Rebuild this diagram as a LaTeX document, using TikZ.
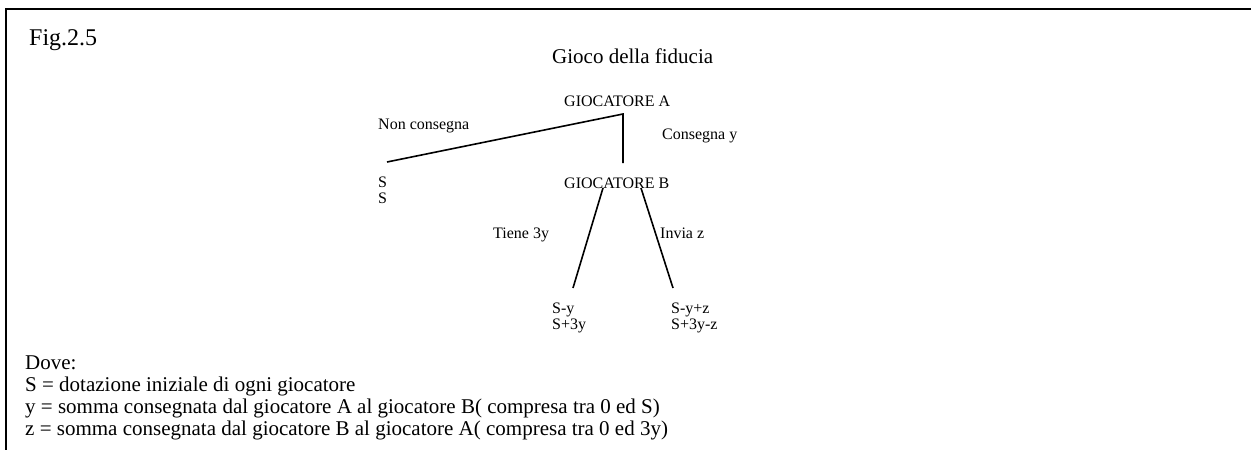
\documentclass[tikz,border=0pt]{standalone}
\usepackage{fontspec}
\setmainfont{Liberation Serif}
\usetikzlibrary{positioning}

\begin{document}
\begin{tikzpicture}[x=1pt, y=-1pt, every node/.style={inner sep=0pt, anchor=base west}]
        \tikzstyle{label}=[font=\fontsize{16}{16}\selectfont, align=left]
        \tikzstyle{legend}=[font=\fontsize{21}{22}\selectfont]
        \tikzstyle{branch}=[line width=1.6pt]
        \useasboundingbox (0,0) rectangle (1251,450);
        % frame, top and left only
        \draw[line width=2pt] (6,450) -- (6,9) -- (1251,9);
        \node[font=\fontsize{24}{24}\selectfont] (fig) at (29,45) {Fig.2.5};
        \node[legend] (title) at (552,63) {Gioco della fiducia};
        % tree
        \node[label] (ga) at (564,106) {GIOCATORE A};
        \node[label] (nc) at (378,129) {Non consegna};
        \node[label] (cy) at (662,139) {Consegna y};
        \node[label] (ss) at (378,203) {S\\S};
        \node[label] (gb) at (564,188) {GIOCATORE B};
        \node[label] (tiene) at (493,238) {Tiene 3y};
        \node[label] (invia) at (660,238) {Invia z};
        \node[label] (keep) at (552,329) {S-y\\S+3y};
        \node[label] (send) at (671,329) {S-y+z\\S+3y-z};
        \coordinate (a) at (623,114);
        \coordinate (aleft) at (387,162);
        \coordinate (adown) at (623,163);
        \coordinate (bl) at (603,188);
        \coordinate (br) at (641,188);
        \coordinate (bleft) at (573,288);
        \coordinate (bright) at (673,288);
        \draw[branch] (aleft) -- (a) -- (adown);
        \draw[branch] (bl) -- (bleft);
        \draw[branch] (br) -- (bright);
        % legend
        \node[legend] (dove) at (25,369) {Dove:};
        \node[legend] (ls) at (25,391) {S = dotazione iniziale di ogni giocatore};
        \node[legend] (ly) at (25,413) {y = somma consegnata dal giocatore A al giocatore B( compresa tra 0 ed S)};
        \node[legend] (lz) at (25,435) {z = somma consegnata dal giocatore B al giocatore A( compresa tra 0 ed 3y)};
\end{tikzpicture}
\end{document}
